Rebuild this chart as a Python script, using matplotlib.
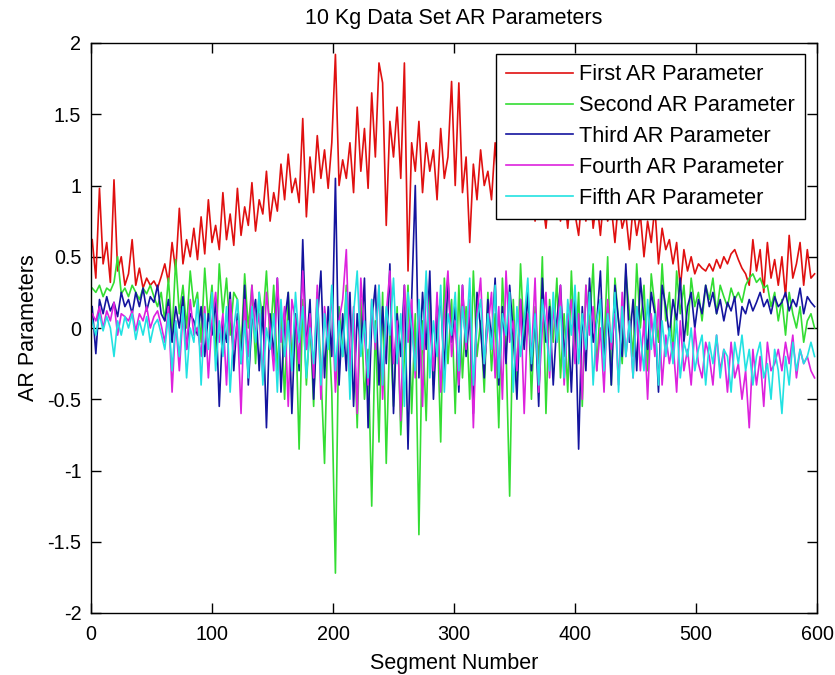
import numpy as np
import matplotlib
matplotlib.use("Agg")
import matplotlib.pyplot as plt

plt.rcParams['font.family'] = ['Liberation Sans', 'DejaVu Sans']
plt.rcParams['axes.unicode_minus'] = False

segments = np.arange(1, 600, 3)

first_ar = [
    0.62, 0.35, 0.98, 0.45, 0.60, 0.32, 1.04, 0.40, 0.50, 0.30,
    0.38, 0.62, 0.30, 0.42, 0.28, 0.35, 0.30, 0.33, 0.28, 0.36,
    0.45, 0.32, 0.60, 0.40, 0.84, 0.45, 0.62, 0.50, 0.70, 0.48,
    0.78, 0.52, 0.90, 0.60, 0.72, 0.55, 0.95, 0.62, 0.80, 0.58,
    0.98, 0.65, 0.85, 0.72, 1.02, 0.68, 0.90, 0.80, 1.10, 0.75,
    0.95, 0.82, 1.15, 0.90, 1.22, 0.95, 1.05, 0.88, 1.47, 0.78,
    1.20, 0.95, 1.35, 1.05, 1.25, 0.98, 1.30, 1.92, 1.00, 1.18,
    1.05, 1.30, 0.95, 1.55, 1.10, 1.40, 0.98, 1.65, 1.20, 1.86,
    1.72, 0.72, 1.45, 1.20, 1.55, 1.05, 1.86, 0.40, 1.30, 1.10,
    1.45, 0.95, 1.30, 1.10, 1.25, 0.90, 1.40, 1.05, 1.20, 1.73,
    1.00, 1.72, 0.95, 1.20, 0.60, 1.15, 0.90, 1.25, 1.00, 1.10,
    0.90, 1.30, 0.95, 1.15, 0.85, 1.05, 0.80, 1.10, 0.90, 1.00,
    0.85, 1.05, 0.75, 1.10, 0.90, 0.70, 1.00, 0.82, 1.05, 0.75,
    0.95, 0.70, 1.00, 0.80, 0.65, 0.95, 0.75, 1.05, 0.70, 0.90,
    0.65, 0.95, 0.75, 0.85, 0.60, 0.90, 0.70, 0.80, 0.55, 0.85,
    0.65, 0.80, 0.50, 0.75, 0.60, 0.85, 0.45, 0.70, 0.55, 0.62,
    0.45, 0.60, 0.28, 0.55, 0.40, 0.50, 0.38, 0.45, 0.42, 0.40,
    0.45, 0.40, 0.48, 0.42, 0.50, 0.45, 0.52, 0.55, 0.48, 0.42,
    0.38, 0.30, 0.62, 0.40, 0.55, 0.25, 0.60, 0.35, 0.48, 0.30,
    0.50, 0.22, 0.65, 0.35, 0.45, 0.60, 0.30, 0.55, 0.35, 0.38,
]

second_ar = [
    0.28, 0.25, 0.30, 0.22, 0.28, 0.26, 0.32, 0.50, 0.24, 0.28,
    0.22, 0.30, 0.25, 0.20, 0.28, 0.24, 0.30, 0.22, 0.15, 0.25,
    0.05, 0.35, -0.05, 0.48, 0.10, 0.30, 0.00, 0.40, 0.15, 0.25,
    -0.10, 0.42, 0.05, 0.30, -0.20, 0.45, 0.10, 0.35, -0.05, 0.25,
    0.20, -0.15, 0.38, 0.00, 0.30, -0.25, 0.25, 0.05, 0.40, -0.10,
    0.30, -0.30, 0.15, -0.50, 0.25, -0.20, 0.10, -0.85, 0.20, -0.40,
    0.05, -0.55, 0.25, -0.30, -0.95, 0.10, -0.45, -1.72, 0.15, -0.20,
    0.30, -0.40, 0.10, -0.70, 0.20, -0.50, -0.15, -1.25, 0.05, -0.80,
    0.25, -0.95, 0.00, -0.55, 0.15, -0.75, -0.20, 0.30, -0.60, 0.10,
    -1.45, 0.05, -0.65, 0.25, -0.40, 0.10, -0.80, 0.35, -0.25, 0.20,
    -0.60, 0.30, -0.35, 0.15, -0.50, 0.40, -0.20, 0.05, -0.45, 0.25,
    -0.30, 0.10, -0.70, 0.35, -0.15, -1.18, 0.20, -0.40, 0.45, -0.10,
    0.30, -0.50, 0.15, -0.25, 0.50, -0.60, 0.20, -0.10, 0.35, -0.35,
    0.10, -0.45, 0.40, -0.20, 0.25, -0.55, 0.30, 0.00, 0.45, -0.30,
    0.20, -0.15, 0.50, -0.40, 0.35, 0.05, -0.25, 0.40, 0.10, -0.20,
    0.45, 0.00, 0.30, -0.30, 0.38, 0.15, -0.10, 0.45, 0.05, 0.25,
    -0.20, 0.40, 0.10, 0.30, -0.05, 0.35, 0.15, 0.25, 0.05, 0.30,
    0.20, 0.35, 0.10, 0.30, 0.22, 0.15, 0.28, 0.20, 0.25, 0.18,
    0.30, 0.35, 0.38, 0.32, 0.35, 0.28, 0.30, 0.15, 0.25, 0.05,
    0.20, -0.05, 0.25, 0.10, 0.00, 0.15, -0.10, 0.05, 0.10, 0.00,
]

third_ar = [
    0.15, -0.18, 0.20, 0.10, 0.22, 0.12, 0.18, 0.08, 0.25, 0.15,
    0.20, 0.10, 0.25, 0.15, 0.28, 0.12, 0.22, 0.18, 0.30, 0.10,
    0.05, 0.20, -0.10, 0.15, 0.00, 0.22, -0.15, 0.10, 0.05, -0.05,
    0.15, -0.20, 0.10, -0.05, 0.20, -0.55, 0.05, -0.10, 0.25, -0.30,
    0.10, -0.25, 0.30, -0.40, 0.05, 0.20, -0.30, 0.15, -0.70, 0.10,
    -0.20, 0.35, -0.45, 0.05, 0.25, -0.60, 0.10, -0.30, 0.62, -0.15,
    0.20, -0.50, 0.05, 0.40, -0.35, 0.15, -0.20, 1.05, -0.40, 0.10,
    -0.30, 0.25, -0.55, 0.10, -0.15, 0.35, -0.70, 0.05, 0.30, -0.40,
    0.15, -0.25, 0.45, -0.60, 0.10, -0.20, 0.30, -0.85, 0.20, 1.00,
    -0.35, 0.25, -0.15, 0.40, -0.50, 0.05, 0.20, -0.30, 0.35, -0.10,
    0.15, -0.45, 0.30, -0.20, 0.10, -0.60, 0.25, 0.00, -0.35, 0.20,
    -0.10, 0.35, -0.40, 0.15, -0.25, 0.30, -0.05, -0.50, 0.20, -0.15,
    0.25, -0.30, 0.10, -0.55, 0.35, -0.10, 0.15, -0.40, 0.05, 0.30,
    -0.20, 0.10, -0.45, 0.20, -0.85, 0.15, -0.30, 0.35, -0.10, 0.05,
    0.40, -0.25, 0.15, -0.40, 0.30, 0.05, -0.20, 0.45, -0.10, 0.20,
    -0.30, 0.35, 0.05, -0.15, 0.25, 0.10, -0.45, 0.30, 0.15, -0.05,
    0.20, 0.05, 0.35, -0.10, 0.15, 0.25, 0.00, 0.20, 0.10, 0.30,
    0.15, 0.25, 0.10, 0.20, 0.05, 0.18, 0.12, 0.22, -0.05, 0.15,
    0.10, 0.20, 0.12, 0.18, 0.25, 0.15, 0.20, 0.10, 0.22, 0.15,
    0.18, 0.25, 0.12, 0.20, 0.15, 0.28, 0.10, 0.22, 0.18, 0.15,
]

fourth_ar = [
    0.10, 0.05, 0.15, 0.00, 0.12, 0.05, 0.18, -0.05, 0.10, 0.08,
    0.05, 0.12, -0.02, 0.10, 0.05, 0.15, 0.00, 0.08, 0.12, 0.02,
    -0.10, 0.15, -0.45, 0.05, -0.30, 0.10, -0.15, 0.20, -0.05, 0.00,
    -0.20, 0.15, -0.35, 0.05, 0.25, -0.10, 0.10, -0.40, 0.20, -0.15,
    0.05, -0.60, 0.20, -0.20, 0.30, -0.05, 0.10, -0.35, 0.25, 0.00,
    -0.30, 0.35, -0.10, 0.15, -0.55, 0.20, 0.05, -0.25, 0.40, -0.15,
    0.10, -0.35, 0.30, -0.50, 0.15, -0.10, 0.25, -0.45, 0.05, 0.20,
    0.55, -0.30, 0.15, -0.60, 0.35, -0.05, -0.40, 0.20, -0.15, 0.30,
    -0.50, 0.10, 0.40, -0.25, 0.05, -0.65, 0.30, -0.10, 0.20, -0.35,
    0.15, -0.55, 0.35, 0.00, -0.30, 0.25, -0.45, 0.10, 0.40, -0.20,
    0.05, -0.40, 0.30, -0.15, 0.20, -0.70, 0.10, 0.35, -0.25, 0.00,
    0.25, -0.35, 0.15, -0.50, 0.40, -0.10, 0.05, -0.30, 0.20, -0.60,
    0.10, -0.20, 0.35, -0.45, 0.00, 0.25, -0.35, 0.15, -0.10, 0.30,
    -0.40, 0.05, 0.20, -0.25, 0.10, -0.50, 0.30, -0.05, 0.15, -0.30,
    0.00, -0.45, 0.20, -0.15, 0.10, -0.40, 0.25, -0.20, 0.05, -0.35,
    0.15, -0.30, 0.05, -0.50, 0.10, -0.20, 0.20, -0.40, -0.05, -0.25,
    -0.10, -0.45, 0.05, -0.30, -0.15, -0.40, 0.00, -0.25, -0.35, -0.10,
    -0.20, -0.40, -0.05, -0.30, -0.15, -0.45, -0.10, -0.35, -0.25, -0.50,
    -0.30, -0.70, -0.15, -0.40, -0.20, -0.55, -0.10, -0.30, -0.25, -0.15,
    -0.30, -0.10, -0.25, -0.05, -0.35, -0.15, -0.25, -0.20, -0.30, -0.35,
]

fifth_ar = [
    0.05, -0.05, 0.10, -0.02, 0.08, 0.00, -0.20, 0.05, -0.05, 0.08,
    0.00, 0.10, -0.08, 0.05, -0.05, 0.08, -0.10, 0.02, 0.06, -0.04,
    -0.15, 0.10, -0.30, 0.05, -0.20, 0.15, -0.35, 0.00, -0.10, 0.20,
    -0.40, 0.10, -0.15, 0.25, -0.30, 0.05, -0.20, 0.15, -0.45, 0.00,
    0.20, -0.25, 0.05, -0.35, 0.15, -0.10, 0.25, -0.40, 0.00, -0.15,
    0.10, -0.45, 0.20, -0.20, 0.05, -0.30, 0.25, -0.10, 0.15, -0.35,
    0.00, -0.25, 0.20, -0.40, 0.10, -0.15, 0.30, -0.30, 0.05, -0.20,
    0.25, -0.50, 0.10, 0.40, -0.20, 0.05, -0.35, 0.20, -0.10, 0.30,
    -0.40, 0.15, -0.05, 0.35, -0.25, 0.10, -0.55, 0.25, 0.00, -0.30,
    0.20, -0.15, 0.40, -0.35, 0.05, -0.20, 0.30, -0.45, 0.10, -0.05,
    0.25, -0.30, 0.15, -0.10, 0.35, -0.40, 0.05, 0.20, -0.25, 0.10,
    -0.15, 0.30, -0.35, 0.10, -0.05, 0.25, -0.45, 0.15, -0.20, 0.05,
    0.35, -0.25, 0.10, -0.40, 0.20, 0.00, -0.30, 0.25, -0.10, 0.15,
    -0.35, 0.20, -0.05, 0.30, -0.25, 0.10, -0.15, 0.25, -0.40, 0.05,
    0.20, -0.30, 0.10, -0.10, 0.25, -0.45, 0.15, -0.20, 0.05, -0.35,
    0.15, -0.05, -0.30, 0.20, -0.15, 0.10, -0.40, 0.05, -0.20, 0.00,
    -0.25, 0.05, -0.35, -0.10, -0.20, 0.00, -0.30, -0.15, -0.05, -0.40,
    -0.10, -0.25, -0.05, -0.35, -0.15, -0.20, -0.45, -0.10, -0.25, -0.05,
    -0.30, -0.15, -0.40, -0.20, -0.10, -0.35, -0.25, -0.50, -0.15, -0.30,
    -0.60, -0.20, -0.40, -0.10, -0.30, -0.15, -0.25, -0.20, -0.10, -0.20,
]

labels = ["First AR Parameter", "Second AR Parameter", "Third AR Parameter",
          "Fourth AR Parameter", "Fifth AR Parameter"]
colors = ["#e01010", "#33dd33", "#14149e", "#dd22dd", "#22e2e2"]
series = [first_ar, second_ar, third_ar, fourth_ar, fifth_ar]

fig = plt.figure(figsize=(8.35, 6.75), dpi=100)
ax_left, ax_right, ax_top, ax_bottom = 91, 817, 43, 613
ax = fig.add_axes([ax_left/835, (675-ax_bottom)/675,
                   (ax_right-ax_left)/835, (ax_bottom-ax_top)/675])

for vals, lab, col in zip(series, labels, colors):
    ax.plot(segments, vals, color=col, lw=1.2, label=lab)

ax.set_xlim(0, 600)
ax.set_ylim(-2, 2)
ax.set_xticks([0, 100, 200, 300, 400, 500, 600])
ax.set_yticks([-2, -1.5, -1, -0.5, 0, 0.5, 1, 1.5, 2])
ax.set_yticklabels(["-2", "-1.5", "-1", "-0.5", "0", "0.5", "1", "1.5", "2"])
ax.tick_params(direction='in', length=7, width=1, top=True, right=True,
               labelsize=14.2, colors='black')
ax.tick_params(axis='x', pad=9)
ax.tick_params(axis='y', pad=7)
for sp in ax.spines.values():
    sp.set_linewidth(1.0)
    sp.set_color('black')

ax.set_title("10 Kg Data Set AR Parameters", fontsize=15.5, pad=14)
ax.set_xlabel("Segment Number", fontsize=15.5, labelpad=6)
ax.set_ylabel("AR Parameters", fontsize=15.5, labelpad=6)

leg = ax.legend(loc='upper right',
                bbox_to_anchor=((805-ax_left)/(ax_right-ax_left),
                                (ax_bottom-54)/(ax_bottom-ax_top)),
                borderaxespad=0, fontsize=15.7, handlelength=3.05, handletextpad=0.28,
                labelspacing=0.45, borderpad=0.48, fancybox=False, framealpha=1,
                edgecolor='black')
leg.get_frame().set_linewidth(1.0)

fig.savefig("out.png", dpi=100)
